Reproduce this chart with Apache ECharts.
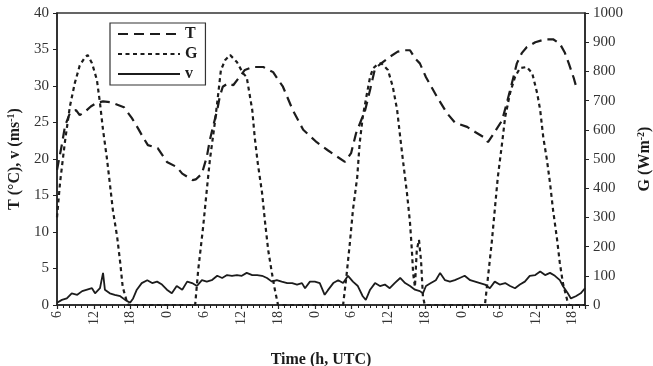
<!DOCTYPE html>
<html>
<head>
<meta charset="utf-8">
<script src="https://cdn.jsdelivr.net/npm/echarts@6/dist/echarts.min.js"></script>
<style>
  html, body { margin: 0; padding: 0; background: #fff; }
  #chart { width: 653px; height: 366px; }
</style>
</head>
<body>
<div id="chart"></div>
<script>
// hours since 06 UTC of the first day
const tempHours = [0, 0.8, 1.3, 2.1, 3.1, 3.7, 4.6, 5.5, 6.5, 7.5, 8.6, 9.3, 10.9, 12.2, 13.2, 14.0, 14.8, 16.4, 17.9, 19.5, 20.4, 22.1, 22.6,
  23.6, 24.4, 24.9, 25.4, 26.1, 26.5, 27.0, 27.9, 28.7, 29.5, 30.6, 31.9, 33.6, 35.2, 36.8, 38.4, 40.1, 42.3, 44.1, 45.3, 46.9, 47.9,
  48.7, 49.4, 50.2, 51.0, 51.8, 52.8, 54.2, 55.5, 56.7, 57.5, 58.3, 59.1, 60.1, 60.9, 61.9, 63.5, 64.8, 66.8, 68.1, 69.7, 70.2, 71.0,
  72.5, 73.3, 74.1, 74.9, 75.7, 76.5, 77.9, 79.5, 80.8, 81.9, 82.7, 83.4, 84.2, 84.7];
const tempC = [18.5, 22, 24.5, 26.3, 26.7, 26.0, 26.5, 27.2, 27.7, 27.9, 27.8, 27.6, 27.1, 25.6, 24.2, 23, 21.9, 21.5, 19.6, 18.9, 18, 17.1, 17.2,
  18, 20.3, 22.6, 24.4, 26.7, 28.5, 29.9, 30.4, 30.1, 31.0, 32.2, 32.6, 32.6, 31.9, 29.9, 26.7, 24, 22.3, 21.2, 20.5, 19.6, 20.8,
  23.5, 25.0, 26.7, 29.5, 32.4, 33.1, 34.0, 34.7, 34.9, 34.9, 33.8, 33.1, 31.2, 30, 28.5, 26.3, 25, 24.4, 23.7, 22.9, 22.3, 23.3,
  25.3, 27.8, 30.4, 33.1, 34.5, 35.3, 36.0, 36.4, 36.4, 35.8, 34.6, 33.0, 31.0, 29.5];

const radHours = [0, 0.5, 1.3, 2.1, 2.9, 3.7, 4.6, 5.0, 5.7, 6.5, 7.0, 7.5, 8.1, 8.6, 9.1, 9.8, 10.3, 10.7, 11.4, 11.6,
  22.5, 23.0, 23.8, 24.4, 24.9, 25.4, 25.7, 26.2, 26.7, 27.4, 28.2, 29.3, 30.3, 30.9, 31.8, 32.2, 32.7, 33.4, 33.9, 34.4, 35.0, 35.5, 36.0,
  46.6, 47.2, 47.7, 48.2, 48.9, 49.3, 49.8, 50.5, 51.0, 51.5, 52.1, 52.8, 53.9, 54.7, 55.4, 55.9, 56.4, 57.0, 57.5, 57.8, 58.0, 58.3, 58.6, 58.96, 59.3, 59.6, 59.9,
  69.7, 70.2, 70.8, 71.3, 71.8, 72.5, 73.0, 73.8, 74.6, 75.4, 76.5, 77.4, 78.2, 78.7, 79.2, 79.8, 80.3, 80.8, 81.4, 81.9, 82.4, 83.1, 83.4, 86];
const radiation = [300, 420, 560, 680, 760, 820, 850, 856, 828, 771, 692, 599, 507, 418, 325, 233, 144, 62, 10, 0,
  0, 120, 267, 394, 497, 575, 623, 712, 805, 839, 856, 832, 794, 780, 668, 575, 486, 384, 281, 188, 110, 51, 0,
  0, 110, 212, 325, 438, 555, 644, 726, 781, 811, 822, 828, 805, 747, 668, 575, 486, 384, 281, 188, 110, 62, 188, 223, 150, 30, 0,
  0, 96, 212, 325, 438, 555, 644, 726, 781, 811, 815, 794, 726, 668, 575, 497, 418, 325, 233, 144, 75, 17, 0, 0];

const windHours = [0, 0.8, 1.6, 2.4, 3.3, 4.1, 4.9, 5.7, 6.2, 7.0, 7.5, 7.8, 8.6, 9.4, 10.3, 11.1, 11.9, 12.4, 13.0, 13.8, 14.7, 15.5, 16.3, 17.1,
  17.9, 18.7, 19.5, 20.4, 21.2, 22.0, 22.8, 23.6, 24.4, 25.2, 26.1, 26.9, 27.7, 28.5, 29.3, 30.1, 30.9, 31.8, 32.6, 33.4, 34.2, 35.0,
  35.8, 36.6, 37.5, 38.3, 39.1, 39.9, 40.4, 41.2, 42.0, 42.8, 43.6, 44.1, 45.0, 45.8, 46.6, 47.4, 48.2, 49.0, 49.8, 50.3, 51.0, 51.8,
  52.6, 53.4, 54.2, 55.0, 55.9, 56.7, 57.5, 58.3, 59.1, 59.6, 60.1, 60.9, 61.7, 62.4, 63.2, 64.0, 64.8, 65.6, 66.4, 67.3, 68.1, 68.9,
  69.7, 70.5, 71.3, 72.1, 73.0, 73.8, 74.6, 75.4, 76.2, 77.0, 77.9, 78.7, 79.5, 80.3, 81.1, 81.9, 82.4, 83.2, 83.7, 84.5, 85.3, 86.0];
const windSpeed = [0.3, 0.7, 0.9, 1.6, 1.4, 1.9, 2.1, 2.3, 1.6, 2.3, 4.4, 2.1, 1.6, 1.4, 1.2, 0.7, 0.3, 0.9, 2.1, 3.0, 3.4, 3.0, 3.2, 2.8,
  2.1, 1.6, 2.6, 2.1, 3.2, 3.0, 2.6, 3.4, 3.2, 3.4, 4.0, 3.7, 4.1, 4.0, 4.1, 4.0, 4.4, 4.1, 4.1, 4.0, 3.7, 3.2,
  3.4, 3.2, 3.0, 3.0, 2.8, 3.0, 2.3, 3.2, 3.2, 3.0, 1.4, 2.0, 3.0, 3.4, 3.0, 4.0, 3.2, 2.6, 1.2, 0.7, 2.1, 3.0,
  2.6, 2.8, 2.3, 3.0, 3.7, 3.0, 2.6, 2.1, 1.9, 1.6, 2.6, 3.0, 3.4, 4.4, 3.4, 3.2, 3.4, 3.7, 4.0, 3.4, 3.2, 3.0,
  2.8, 2.3, 3.2, 2.8, 3.0, 2.6, 2.3, 2.8, 3.2, 4.0, 4.1, 4.6, 4.1, 4.4, 4.0, 3.4, 2.6, 1.6, 0.9, 1.2, 1.6, 2.3];

const leftTicks = { min: 0, max: 40, interval: 5 };
const rightTicks = { min: 0, max: 1000, interval: 100 };
const startHour = 6;

const zip = (xs, ys) => xs.map((x, i) => [x, ys[i]]);

const font = "'Liberation Serif', 'DejaVu Serif', serif";
const ink = "#1c1c1c";

const chart = echarts.init(document.getElementById("chart"));
chart.setOption({
  backgroundColor: "#fff",
  animation: false,
  grid: {
    left: 57,
    right: 68,
    top: 13,
    bottom: 61,
    outerBoundsMode: "none",
    show: true,
    borderColor: "#333",
    borderWidth: 1.5,
  },
  legend: {
    orient: "vertical",
    left: 110,
    top: 23,
    itemWidth: 62,
    itemHeight: 14,
    itemGap: 4,
    padding: [3, 8, 3, 7],
    borderColor: "#333",
    borderWidth: 1.2,
    itemStyle: { opacity: 0 },
    textStyle: { fontFamily: font, fontWeight: "bold", fontSize: 16, color: ink },
    data: ["T", "G", "v"],
  },
  xAxis: {
    type: "value",
    min: 0,
    max: 86,
    interval: 6,
    name: "Time (h, UTC)",
    nameLocation: "middle",
    nameGap: 47,
    nameTextStyle: { fontFamily: font, fontWeight: "bold", fontSize: 16, color: ink },
    axisLine: { lineStyle: { color: "#222", width: 1.5 } },
    axisTick: { length: 4, lineStyle: { color: "#222", width: 1.2 } },
    minorTick: { show: true, splitNumber: 6, length: 3, lineStyle: { color: "#222", width: 1 } },
    splitLine: { show: false },
    axisLabel: {
      rotate: 90,
      margin: 6,
      fontFamily: font,
      fontSize: 14,
      color: "#333",
      formatter: (val) => (val % 6 === 0 ? String((val + startHour) % 24) : ""),
    },
  },
  yAxis: [
    {
      type: "value",
      min: leftTicks.min,
      max: leftTicks.max,
      interval: leftTicks.interval,
      name: "T (°C), v (ms{sup|-1})",
      nameLocation: "middle",
      nameRotate: 90,
      nameGap: 29,
      nameTextStyle: {
        fontFamily: font, fontWeight: "bold", fontSize: 16, color: ink,
        rich: { sup: { fontFamily: font, fontWeight: "bold", fontSize: 10, color: ink, padding: [0, 0, 8, 0] } },
      },
      axisLine: { show: true, lineStyle: { color: "#222", width: 1.5 } },
      axisTick: { show: true, length: 4, lineStyle: { color: "#222" } },
      splitLine: { show: false },
      axisLabel: { fontFamily: font, fontSize: 15, color: "#333", margin: 8 },
    },
    {
      type: "value",
      position: "right",
      min: rightTicks.min,
      max: rightTicks.max,
      interval: rightTicks.interval,
      name: "G (Wm{sup|-2})",
      nameLocation: "middle",
      nameRotate: 90,
      nameGap: 51,
      nameTextStyle: {
        fontFamily: font, fontWeight: "bold", fontSize: 16, color: ink,
        rich: { sup: { fontFamily: font, fontWeight: "bold", fontSize: 10, color: ink, padding: [0, 0, 8, 0] } },
      },
      axisLine: { show: true, lineStyle: { color: "#222", width: 1.5 } },
      axisTick: { show: true, length: 4, lineStyle: { color: "#222" } },
      splitLine: { show: false },
      axisLabel: { fontFamily: font, fontSize: 15, color: "#333", margin: 8, formatter: (val) => String(val) },
    },
  ],
  series: [
    {
      name: "T",
      type: "line",
      yAxisIndex: 0,
      symbol: "none",
      data: zip(tempHours, tempC),
      lineStyle: { color: ink, width: 2.2, type: [10, 6] },
      itemStyle: { color: ink },
    },
    {
      name: "G",
      type: "line",
      yAxisIndex: 1,
      symbol: "none",
      data: zip(radHours, radiation),
      lineStyle: { color: ink, width: 2.2, type: [4, 3.5] },
      itemStyle: { color: ink },
    },
    {
      name: "v",
      type: "line",
      yAxisIndex: 0,
      symbol: "none",
      data: zip(windHours, windSpeed),
      lineStyle: { color: ink, width: 1.8, type: "solid" },
      itemStyle: { color: ink },
    },
  ],
});
</script>
</body>
</html>
